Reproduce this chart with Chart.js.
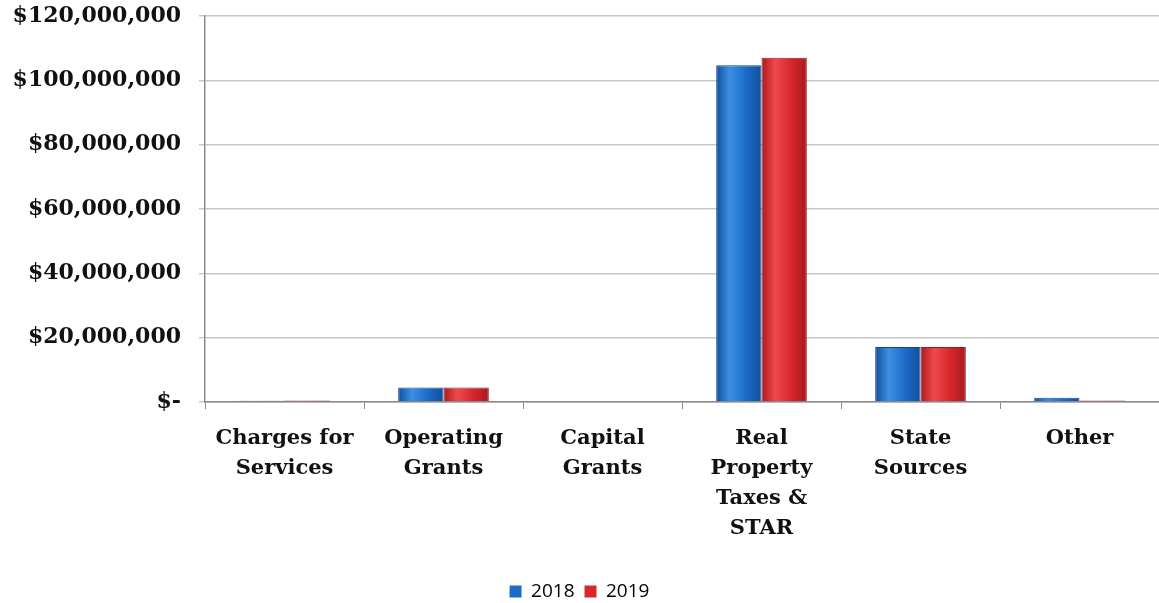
<!DOCTYPE html>
<html>
<head>
<meta charset="utf-8">
<script src="https://cdn.jsdelivr.net/npm/chart.js@4/dist/chart.umd.min.js"></script>
<style>
  html, body { margin: 0; padding: 0; background: #fff; }
  #wrap { width: 1159px; height: 603px; position: relative; }
</style>
</head>
<body>
<div id="wrap"><canvas id="revChart"></canvas></div>
<script>
// Revenue categories (multi-line labels as on the original)
const categories = [
    ['Charges for', 'Services'],
    ['Operating', 'Grants'],
    ['Capital', 'Grants'],
    ['Real', 'Property', 'Taxes &', 'STAR'],
    ['State', 'Sources'],
    ['Other']
];

// Values (dollars)
const values2018 = [400000, 4500000, 0, 104700000, 17100000, 1300000];
const values2019 = [500000, 4500000, 0, 107000000, 17100000, 500000];

const yMax = 120000000;
const yStep = 20000000;

// Horizontal gradient to mimic the shaded 3D bars
function barFill(dark, mid, light) {
    return function(context) {
        const chart = context.chart;
        const el = context.element;
        if (!el || !chart.chartArea) return mid;
        const x = el.x, w = el.width;
        if (!Number.isFinite(x) || !Number.isFinite(w) || w <= 0) return mid;
        const g = chart.ctx.createLinearGradient(x - w / 2, 0, x + w / 2, 0);
        g.addColorStop(0, dark);
        g.addColorStop(0.3, light);
        g.addColorStop(0.65, mid);
        g.addColorStop(1, dark);
        return g;
    };
}

const yFont = { family: "'DejaVu Serif', serif", size: 22, weight: 'bold' };
const xFont = { family: "'DejaVu Serif', serif", size: 21, weight: 'bold', lineHeight: 1.42 };

const ctx = document.getElementById('revChart');
const chart = new Chart(ctx, {
    type: 'bar',
    data: {
        labels: categories,
        datasets: [
            {
                label: '2018',
                data: values2018,
                backgroundColor: barFill('#114f9c', '#1d6cc8', '#3d8fe3'),
                borderColor: '#0f4a93',
                borderWidth: 1,
                categoryPercentage: 0.57,
                barPercentage: 1.0
            },
            {
                label: '2019',
                data: values2019,
                backgroundColor: barFill('#a81a1f', '#d7272d', '#ee4a4e'),
                borderColor: '#9e1a1e',
                borderWidth: 1,
                categoryPercentage: 0.57,
                barPercentage: 1.0
            }
        ]
    },
    options: {
        responsive: true,
        maintainAspectRatio: false,
        animation: false,
        layout: { padding: { top: 16, right: 0, left: 0, bottom: -8 } },
        scales: {
            x: {
                grid: {
                    display: true,
                    drawOnChartArea: false,
                    offset: true,
                    tickLength: 7,
                    color: '#8a8a8a'
                },
                border: { color: '#8a8a8a', width: 1.5 },
                ticks: {
                    color: '#111',
                    font: xFont,
                    padding: 15,
                    maxRotation: 0,
                    autoSkip: false
                },
                afterFit: function(scale) { scale.height = 170; }
            },
            y: {
                min: 0,
                max: yMax,
                grid: {
                    color: '#c8c8c8',
                    lineWidth: 1.5,
                    tickLength: 6
                },
                border: { color: '#8a8a8a', width: 1.5 },
                ticks: {
                    stepSize: yStep,
                    color: '#111',
                    font: yFont,
                    padding: 18,
                    callback: function(value) {
                        if (value === 0) return '$-';
                        return '$' + value.toLocaleString('en-US');
                    }
                },
                afterFit: function(scale) {
                    scale.width = 205;
                    scale.paddingTop = 0;
                    scale.paddingBottom = 0;
                }
            }
        },
        plugins: {
            legend: {
                display: true,
                position: 'bottom',
                labels: {
                    boxWidth: 12,
                    boxHeight: 12,
                    padding: 10,
                    color: '#222',
                    font: { family: "'Open Sans', sans-serif", size: 19 },
                    generateLabels: function(chart) {
                        const cols = ['#1d6cc8', '#d7272d'];
                        return chart.data.datasets.map((ds, i) => ({
                            text: ds.label,
                            fillStyle: cols[i],
                            strokeStyle: cols[i],
                            lineWidth: 0,
                            datasetIndex: i
                        }));
                    }
                }
            },
            tooltip: { enabled: false }
        }
    }
});
// redraw once so the gradients see the final bar geometry
chart.update('none');
</script>
</body>
</html>
